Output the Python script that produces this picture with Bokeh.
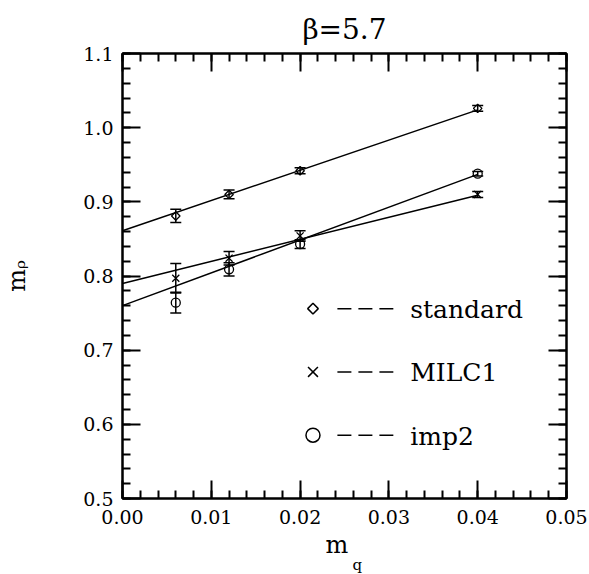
import math
from bokeh.plotting import figure
from bokeh.models import (Range1d, FixedTicker, LinearAxis, Whisker, TeeHead,
                          ColumnDataSource, Title, NumeralTickFormatter,
                          CustomJSTickFormatter)
from bokeh.core.properties import value
from bokeh.embed import file_html
from bokeh.resources import INLINE

# ---- data ----
mq = [0.006, 0.012, 0.020, 0.040]
std_m = [0.881, 0.910, 0.942, 1.026]
std_err = [0.009, 0.006, 0.004, 0.004]
milc_m = [0.797, 0.824, 0.854, 0.910]
milc_err = [0.020, 0.009, 0.007, 0.004]
imp2_m = [0.764, 0.809, 0.843, 0.938]
imp2_err = [0.014, 0.009, 0.006, 0.003]

fit_x = [0.0, 0.04]
std_fit = [0.861, 1.024]
milc_fit = [0.790, 0.909]
imp2_fit = [0.760, 0.937]

legend_labels = ["standard", "MILC1", "imp2"]
legend_y = [0.756, 0.6707, 0.5854]
legend_x = 0.02145
legend_dash = [0.0242, 0.0305]
legend_text_x = 0.0324

x_ticks = [0.0, 0.01, 0.02, 0.03, 0.04, 0.05]
x_minor = [round(i * 0.002, 4) for i in range(26)]
y_ticks = [0.5, 0.6, 0.7, 0.8, 0.9, 1.0, 1.1]
y_minor = [round(0.5 + i * 0.02, 3) for i in range(31)]

FONT = "DejaVu Serif"

p = figure(width=589, height=574, output_backend="svg", toolbar_location=None,
           x_range=Range1d(0, 0.05), y_range=Range1d(0.5, 1.1),
           x_axis_type=None, y_axis_type=None,
           min_border_left=122, min_border_right=23, min_border_top=53,
           min_border_bottom=76)
p.title.text = "β=5.7"
p.title.align = "center"
p.title.text_font = FONT
p.title.text_font_size = "28px"
p.title.text_font_style = "normal"
p.title.text_color = "black"
p.title.standoff = 16
p.xgrid.visible = False
p.ygrid.visible = False
p.outline_line_color = "black"
p.outline_line_width = 2
p.background_fill_color = "white"
p.border_fill_color = "white"


def make_axis(ticks, minor, fmt, show_labels, standoff):
    ax = LinearAxis(ticker=FixedTicker(ticks=ticks, minor_ticks=minor))
    if show_labels:
        ax.formatter = NumeralTickFormatter(format=fmt)
        ax.major_label_text_font_size = "19px"
    else:
        ax.formatter = CustomJSTickFormatter(code="return ''")
        ax.major_label_text_font_size = "1px"
    ax.major_tick_in = 18
    ax.major_tick_out = 0
    ax.minor_tick_in = 8
    ax.minor_tick_out = 0
    ax.major_tick_line_width = 2
    ax.minor_tick_line_width = 2
    ax.axis_line_width = 2
    ax.axis_line_color = "black"
    ax.major_tick_line_color = "black"
    ax.minor_tick_line_color = "black"
    ax.major_label_text_font = FONT
    ax.major_label_text_color = "black"
    ax.major_label_standoff = standoff
    ax.axis_label_text_font = FONT
    ax.axis_label_text_font_style = "normal"
    ax.axis_label_text_color = "black"
    return ax


p.add_layout(make_axis(x_ticks, x_minor, "0.00", True, 11), "below")
p.add_layout(make_axis(x_ticks, x_minor, "0.00", False, 0), "above")
yax = make_axis(y_ticks, y_minor, "0.0", True, 9)
yax.axis_label = "mᵨ"
yax.axis_label_text_font_size = "24px"
yax.axis_label_standoff = 49
p.add_layout(yax, "left")
p.add_layout(make_axis(y_ticks, y_minor, "0.0", False, 0), "right")

# x-axis label: "m" with subscript "q" as titles in the lower panel
p.add_layout(Title(text="m", align="left", offset=203, standoff=5,
                   text_font=FONT, text_font_size="24px", text_color="black",
                   text_font_style="normal"), "below")
p.add_layout(Title(text="q", align="left", offset=230, standoff=-15,
                   text_font=FONT, text_font_size="15px", text_color="black",
                   text_font_style="normal"), "below")

# fit lines
for fy in (std_fit, milc_fit, imp2_fit):
    p.line(fit_x, fy, line_color="black", line_width=1.5)

# error bars
for vals, errs in ((std_m, std_err), (milc_m, milc_err), (imp2_m, imp2_err)):
    src = ColumnDataSource(dict(x=mq,
                                upper=[v + e for v, e in zip(vals, errs)],
                                lower=[v - e for v, e in zip(vals, errs)]))
    w = Whisker(source=src, base="x", upper="upper", lower="lower",
                dimension="height", line_color="black", line_width=1.5,
                upper_head=TeeHead(size=11, line_width=1.5, line_color="black"),
                lower_head=TeeHead(size=11, line_width=1.5, line_color="black"))
    p.add_layout(w)

# data markers
p.scatter(mq, std_m, marker="square", angle=math.pi / 4, size=6,
          fill_color=None, line_color="black", line_width=1.3)
p.scatter(mq, milc_m, marker="x", size=10, line_color="black", line_width=1.3)
p.scatter(mq, imp2_m, marker="circle", size=9, fill_color=None,
          line_color="black", line_width=1.3)

# legend
p.scatter([legend_x], [legend_y[0]], marker="square", angle=math.pi / 4, size=7.5,
          fill_color=None, line_color="black", line_width=1.5)
p.scatter([legend_x], [legend_y[1]], marker="x", size=14, line_color="black",
          line_width=1.5)
p.scatter([legend_x], [legend_y[2]], marker="circle", size=14, fill_color=None,
          line_color="black", line_width=1.5)
for ly in legend_y:
    p.line(legend_dash, [ly, ly], line_color="black", line_width=1.5,
           line_dash="14 7")
p.text([legend_text_x] * 3, legend_y, text=legend_labels,
       text_font=value(FONT), text_font_size="25px", text_color="black",
       text_baseline="alphabetic", text_align="left", y_offset=1)

open("out.html", "w").write(file_html(p, INLINE))
